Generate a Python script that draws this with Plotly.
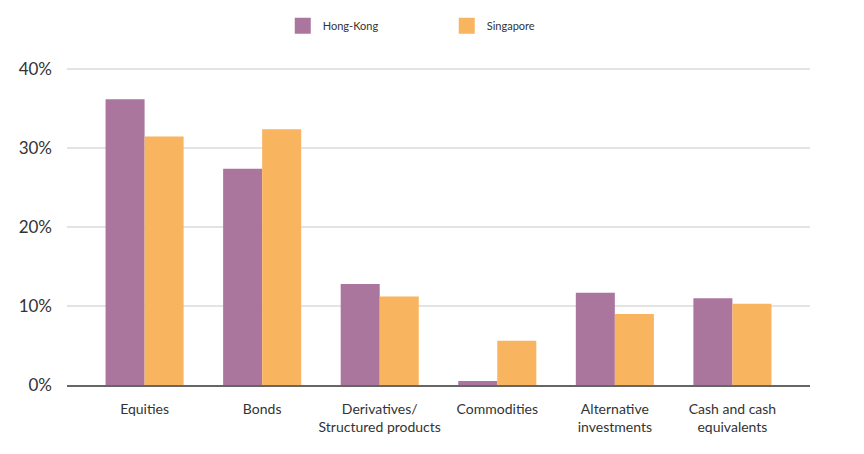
import plotly.graph_objects as go

categories = ["Equities", "Bonds", "Derivatives/<br>Structured products", "Commodities",
              "Alternative<br>investments", "Cash and cash<br>equivalents"]
hong_kong = [36.2, 27.4, 12.8, 0.5, 11.7, 11.0]
singapore = [31.5, 32.4, 11.2, 5.6, 9.0, 10.3]
y_ticks = [0, 10, 20, 30, 40]
y_tick_labels = ["0%", "10%", "20%", "30%", "40%"]
series = [("Hong-Kong", hong_kong, "#AB769E"), ("Singapore", singapore, "#F8B45F")]

fig = go.Figure()
for name, vals, color in series:
    fig.add_bar(x=categories, y=vals, name=name, marker_color=color,
                marker_line_width=0, showlegend=False, legendgroup=name)
for name, vals, color in series:
    fig.add_scatter(x=[None], y=[None], mode="markers", name=name, legendgroup=name,
                    marker=dict(symbol="square", size=16, color=color))

fig.update_layout(
    width=864, height=454,
    margin=dict(l=59, r=62, t=59, b=77),
    paper_bgcolor="white", plot_bgcolor="white",
    barmode="group", bargap=0.336, bargroupgap=0,
    font=dict(family="Lato, Open Sans, sans-serif", color="#333333", size=13),
    legend=dict(orientation="h", x=0.318, xanchor="left", xref="container",
                y=0.993, yanchor="top", yref="container",
                font=dict(size=11, color="#333333"),
                entrywidth=119, entrywidthmode="pixels", itemclick=False,
                itemdoubleclick=False),
    showlegend=True,
)
fig.update_xaxes(range=[-0.66, 5.66], showgrid=False, showline=True, linecolor="#666666",
                 linewidth=1.5, ticks="", ticklabelstandoff=10,
                 tickfont=dict(size=14, color="#333333"))
fig.update_yaxes(range=[0, 40.3], tickvals=y_ticks, ticktext=y_tick_labels, showgrid=True,
                 gridcolor="#E3E3E3", gridwidth=1.5, zeroline=False, showline=False,
                 ticks="", ticklabelstandoff=14, tickfont=dict(size=17, color="#333333"))

fig.write_html("out.html")
